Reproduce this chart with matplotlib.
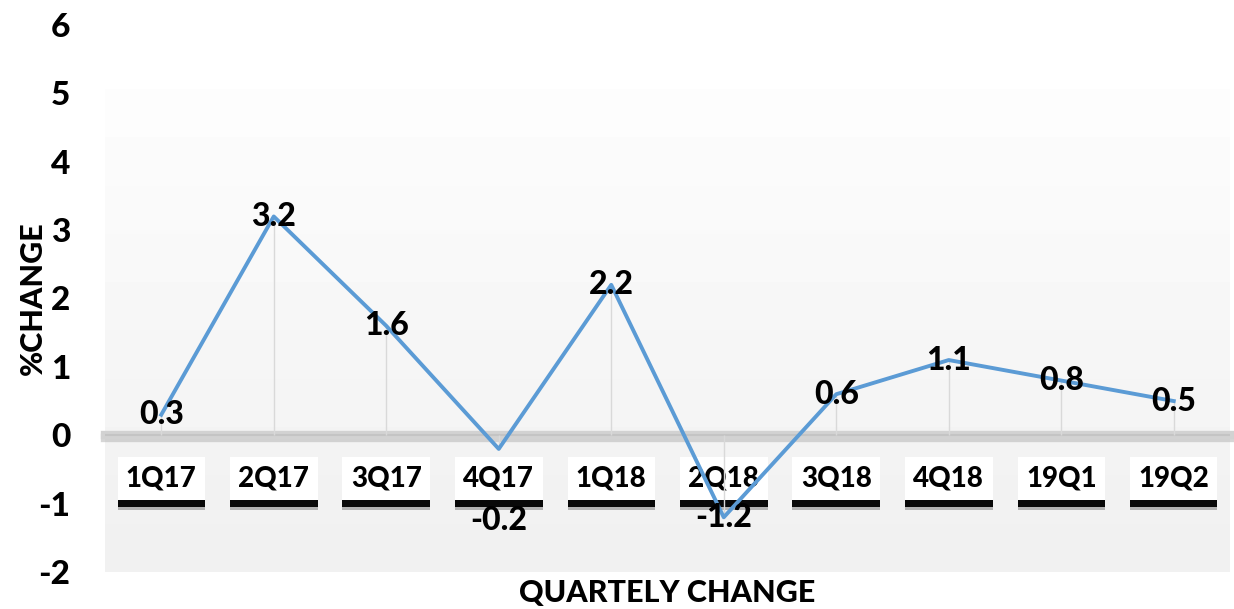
import numpy as np
import matplotlib
matplotlib.use("Agg")
import matplotlib.pyplot as plt
import matplotlib.patheffects as pe

plt.rcParams['font.family'] = ['Lato', 'DejaVu Sans']
plt.rcParams['font.weight'] = 'bold'

# DADOS
quarters = ["1Q17", "2Q17", "3Q17", "4Q17", "1Q18", "2Q18", "3Q18", "4Q18", "19Q1", "19Q2"]
pct_change = [0.3, 3.2, 1.6, -0.2, 2.2, -1.2, 0.6, 1.1, 0.8, 0.5]
y_ticks = [-2, -1, 0, 1, 2, 3, 4, 5, 6]

x = np.arange(len(quarters))

fig = plt.figure(figsize=(12.34, 6.09), dpi=100)
ax = fig.add_axes([105 / 1234, 37 / 609, 1125 / 1234, 547 / 609])
ax.set_xlim(-0.5, len(quarters) - 0.5)
ax.set_ylim(-2, 6)

# fundo em degradê (branco em cima, cinza claro embaixo)
grad = np.linspace(0, 1, 10).reshape(-1, 1)
cmap = matplotlib.colors.LinearSegmentedColormap.from_list("bg", ["#fdfdfd", "#f1f1f1"])
ax.imshow(grad, cmap=cmap, aspect="auto", extent=(-0.5, len(quarters) - 0.5, -2, 5.05),
          origin="upper", zorder=0, interpolation="nearest")

# linha do zero
ax.axhline(0, color="#d2d2d2", lw=6, zorder=1, clip_on=False,
           path_effects=[pe.SimpleLineShadow(offset=(0, -2), shadow_color="#bbbbbb", alpha=0.6), pe.Normal()])
ax.axhline(0, color="#c4c4c4", lw=1.5, zorder=1)

# linhas de queda
ax.vlines(x, 0, pct_change, color="#d9d9d9", lw=1, zorder=2)

ax.plot(x, pct_change, color="#5b9bd5", lw=2.8, zorder=3)

# rótulos dos dados
for xi, v in zip(x, pct_change):
    yy = v
    if v == -0.2:
        yy = v - 1.05
    ax.text(xi, yy, f"{v:g}", ha="center", va="center", fontsize=23, fontweight="black", zorder=4)

for s in ax.spines.values():
    s.set_visible(False)

ax.set_yticks(y_ticks)
ax.set_yticklabels([str(t) for t in y_ticks], fontsize=24, fontweight="black")
ax.tick_params(axis="y", length=0, pad=25)

ax.spines["bottom"].set_position(("data", 0))
ax.set_xticks(x)
ax.set_xticklabels(quarters, fontsize=20, fontweight="black")
ax.tick_params(axis="x", length=0, pad=22)
for lbl in ax.get_xticklabels():
    lbl.set_bbox(dict(boxstyle="square,pad=0.3", fc="white", ec="none"))
    lbl.get_bbox_patch().set_path_effects([
        pe.SimplePatchShadow(offset=(0, -7), shadow_rgbFace="#888888", alpha=0.6),
        pe.SimplePatchShadow(offset=(0, -5), shadow_rgbFace="black", alpha=0.95),
        pe.Normal(),
    ])
    lbl.set_zorder(5)

ax.set_xlabel("QUARTELY CHANGE", fontsize=22, fontweight="black")
ax.xaxis.set_label_coords(0.5, -0.012)
ax.set_ylabel("%CHANGE", fontsize=22, fontweight="black")
ax.yaxis.set_label_coords(-0.052, 0.5)

plt.savefig("out.png", dpi=100)
